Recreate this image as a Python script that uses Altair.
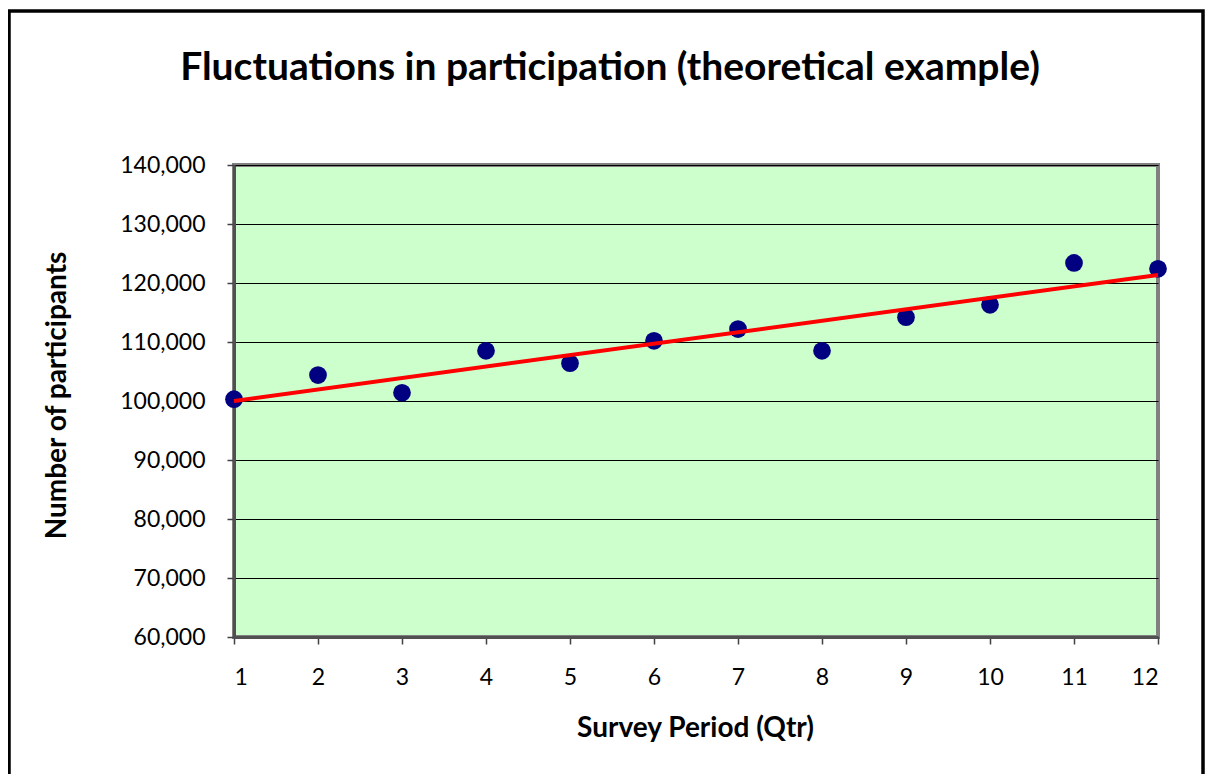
import altair as alt
import pandas as pd

periods = [1, 2, 3, 4, 5, 6, 7, 8, 9, 10, 11, 12]
participants = [100300, 104400, 101400, 108500, 106400, 110200,
                112200, 108500, 114200, 116300, 123400, 122400]
y_ticks = [60000, 70000, 80000, 90000, 100000, 110000, 120000, 130000, 140000]

df = pd.DataFrame({"period": periods, "participants": participants})

FONT = "Lato"
W, H = 924, 472

x_enc = alt.X("period:Q",
              scale=alt.Scale(domain=[1, 12], nice=False, zero=False),
              axis=alt.Axis(values=periods, format="d", title="Survey Period (Qtr)", grid=False,
                            labelFontSize=23, labelColor="black", labelFont=FONT,
                            tickSize=7, tickColor="#404040", tickWidth=1.5,
                            labelPadding=22,
                            domainColor="#505050", domainWidth=3,
                            titleFont=FONT, titleFontSize=28, titleFontWeight="bold",
                            titleColor="black", titleX=461, titleY=91,
                            titleBaseline="middle", titleAlign="center"))
y_enc = alt.Y("participants:Q",
              scale=alt.Scale(domain=[60000, 140000], nice=False, zero=False),
              axis=alt.Axis(values=y_ticks, format=",d", title="Number of participants",
                            grid=True, gridColor="black", gridWidth=1, gridOpacity=1,
                            labelFontSize=23, labelColor="black", labelFont=FONT,
                            tickSize=7, tickColor="#404040", tickWidth=1.5,
                            labelPadding=22,
                            domainColor="#505050", domainWidth=3,
                            titleFont=FONT, titleFontSize=28, titleFontWeight="bold",
                            titleColor="black", titleX=-177, titleY=230,
                            titleAngle=270, titleBaseline="middle", titleAlign="center"))

base = alt.Chart(df)

points = base.mark_circle(size=314, color="#000080", opacity=1, clip=False).encode(
    x=x_enc, y=y_enc)

trend = base.transform_regression(
    "period", "participants", extent=[1, 12]
).mark_line(color="#FF0000", strokeWidth=4, clip=False).encode(
    x="period:Q", y="participants:Q")

frame = alt.Chart(alt.Data(values=[{"a": 1}])).mark_rect(
    fill="transparent", stroke="black", strokeWidth=3.5, clip=False
).encode(
    x=alt.value(-225), x2=alt.value(969),
    y=alt.value(-154), y2=alt.value(640))

chart = alt.layer(frame, points, trend).properties(
    width=W, height=H,
    autosize=alt.AutoSizeParams(type="none"),
    padding={"left": 226, "top": 157, "right": 47, "bottom": 137},
    title=alt.TitleParams(
        "Fluctuations in participation (theoretical example)",
        font=FONT, fontSize=39, fontWeight="bold", color="black",
        anchor="middle", frame="group", dx=-86, offset=-110, baseline="alphabetic"),
).configure(
    background="white"
).configure_view(
    fill="#CCFFCC", stroke="#808080", strokeWidth=4
)

chart.save("out.html", embed_options={"renderer": "svg", "actions": False})
